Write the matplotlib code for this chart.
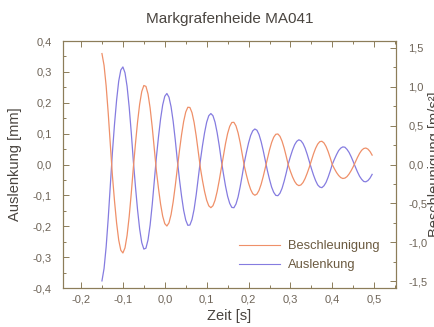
import numpy as np
import matplotlib
matplotlib.use("Agg")
import matplotlib.pyplot as plt
from matplotlib.ticker import MultipleLocator, FuncFormatter

# time axis, sampled every 5 ms
zeit = np.round(np.arange(-0.150, 0.4951, 0.005), 3)

# Auslenkung [mm] (left axis)
auslenkung = [
    -0.377, -0.337, -0.267, -0.174, -0.065,
    0.040, 0.131, 0.209, 0.270, 0.306, 0.316, 0.297, 0.253, 0.186, 0.103, 0.010,
    -0.072, -0.147, -0.209, -0.253, -0.274, -0.271, -0.244, -0.196, -0.130, -0.053,
    0.024, 0.090, 0.148, 0.193, 0.221, 0.230, 0.218, 0.187, 0.140, 0.080, 0.013,
    -0.048, -0.102, -0.148, -0.180, -0.197, -0.196, -0.178, -0.145, -0.098, -0.043,
    0.013, 0.061, 0.103, 0.137, 0.158, 0.165, 0.158, 0.137, 0.103, 0.061, 0.013,
    -0.030, -0.070, -0.103, -0.126, -0.139, -0.140, -0.128, -0.105, -0.072, -0.034,
    0.007, 0.040, 0.070, 0.094, 0.109, 0.115, 0.111, 0.097, 0.074, 0.045, 0.012,
    -0.020, -0.048, -0.073, -0.090, -0.100, -0.101, -0.093, -0.077, -0.054, -0.027,
    0.003, 0.026, 0.047, 0.064, 0.075, 0.080, 0.077, 0.068, 0.053, 0.033, 0.010,
    -0.013, -0.034, -0.052, -0.066, -0.073, -0.075, -0.069, -0.058, -0.041, -0.021,
    0.001, 0.017, 0.032, 0.045, 0.053, 0.057, 0.056, 0.049, 0.039, 0.025, 0.009,
    -0.008, -0.024, -0.038, -0.048, -0.055, -0.056, -0.052, -0.044, -0.032,
]

# Beschleunigung [m/s^2] (right axis)
beschleunigung = [
    1.428, 1.277, 1.012, 0.659, 0.247,
    -0.146, -0.472, -0.755, -0.973, -1.104, -1.139, -1.073, -0.912, -0.671, -0.370, -0.037,
    0.269, 0.547, 0.777, 0.939, 1.017, 1.006, 0.907, 0.727, 0.483, 0.197,
    -0.083, -0.310, -0.511, -0.666, -0.762, -0.792, -0.751, -0.645, -0.481, -0.275, -0.045,
    0.178, 0.382, 0.553, 0.675, 0.737, 0.734, 0.667, 0.541, 0.367, 0.160,
    -0.045, -0.206, -0.348, -0.460, -0.532, -0.556, -0.531, -0.460, -0.348, -0.205, -0.044,
    0.119, 0.270, 0.399, 0.491, 0.541, 0.543, 0.497, 0.407, 0.281, 0.131,
    -0.023, -0.138, -0.241, -0.322, -0.376, -0.396, -0.381, -0.333, -0.255, -0.155, -0.041,
    0.077, 0.187, 0.282, 0.351, 0.389, 0.393, 0.363, 0.300, 0.211, 0.104,
    -0.009, -0.089, -0.160, -0.218, -0.256, -0.272, -0.263, -0.232, -0.180, -0.112, -0.035,
    0.051, 0.136, 0.208, 0.262, 0.294, 0.299, 0.278, 0.232, 0.166, 0.085,
    -0.002, -0.055, -0.103, -0.141, -0.168, -0.180, -0.175, -0.156, -0.122, -0.078, -0.027,
    0.031, 0.091, 0.143, 0.183, 0.206, 0.212, 0.198, 0.167, 0.121,
]

plt.rcParams['font.family'] = ['Liberation Sans', 'DejaVu Sans']

orange = "#ef9069"
blau = "#857ce0"
rahmen = "#8c7d5a"
schrift = "#6e6458"

komma = FuncFormatter(lambda v, p: f"{v:.1f}".replace(".", ",").replace("-0,0", "0,0"))

fig = plt.figure(figsize=(4.35, 3.27), dpi=100)
ax1 = fig.add_axes([63/435, 1-288/327, 333/435, 247/327])
ax2 = ax1.twinx()

ax1.plot(zeit, auslenkung, color=blau, lw=0.9)
ax2.plot(zeit, beschleunigung, color=orange, lw=0.9)

ax1.set_xlim(-0.243, 0.552)
ax1.set_ylim(-0.4, 0.4)
ax2.set_ylim(-1.59, 1.59)

ax1.xaxis.set_major_locator(MultipleLocator(0.1))
ax1.xaxis.set_minor_locator(MultipleLocator(0.05))
ax1.yaxis.set_major_locator(MultipleLocator(0.1))
ax1.yaxis.set_minor_locator(MultipleLocator(0.05))
ax2.yaxis.set_major_locator(MultipleLocator(0.5))
ax2.yaxis.set_minor_locator(MultipleLocator(0.25))
ax1.xaxis.set_major_formatter(komma)
ax1.yaxis.set_major_formatter(komma)
ax2.yaxis.set_major_formatter(komma)

for ax in (ax1, ax2):
    for s in ax.spines.values():
        s.set_color(rahmen)
        s.set_linewidth(0.8)
ax1.tick_params(which='both', direction='in', top=True, colors=rahmen, labelcolor=schrift,
                labelsize=8, width=0.7)
ax1.tick_params(which='major', length=4)
ax1.tick_params(which='minor', length=2)
ax1.tick_params(axis='y', pad=8)
ax1.tick_params(axis='x', pad=5)
ax2.tick_params(which='both', direction='in', colors=rahmen, labelcolor=schrift,
                labelsize=8, width=0.7, pad=9)
ax2.tick_params(which='major', length=4)
ax2.tick_params(which='minor', length=2)

ax1.set_title("Markgrafenheide MA041", fontsize=11, color="#4a4540", pad=13)
ax1.set_xlabel("Zeit [s]", fontsize=10.5, color="#4a4540", labelpad=3)
ax1.set_ylabel("Auslenkung [mm]", fontsize=10.5, color="#4a4540", labelpad=8)
ax2.set_ylabel("Beschleunigung [m/s²]", fontsize=10.5, color="#4a4540", labelpad=0)

h1, = ax1.plot([], [], color=orange, lw=0.8, label="Beschleunigung")
h2, = ax1.plot([], [], color=blau, lw=0.8, label="Auslenkung")
ax1.legend(handles=[h1, h2], loc='upper left', bbox_to_anchor=(234/435, 1-235/327),
           bbox_transform=fig.transFigure, frameon=False, fontsize=9.3, handlelength=3.2,
           handletextpad=0.6, labelcolor="#6b5a40", borderaxespad=0, labelspacing=0.55)

fig.savefig("out.png", dpi=100)
